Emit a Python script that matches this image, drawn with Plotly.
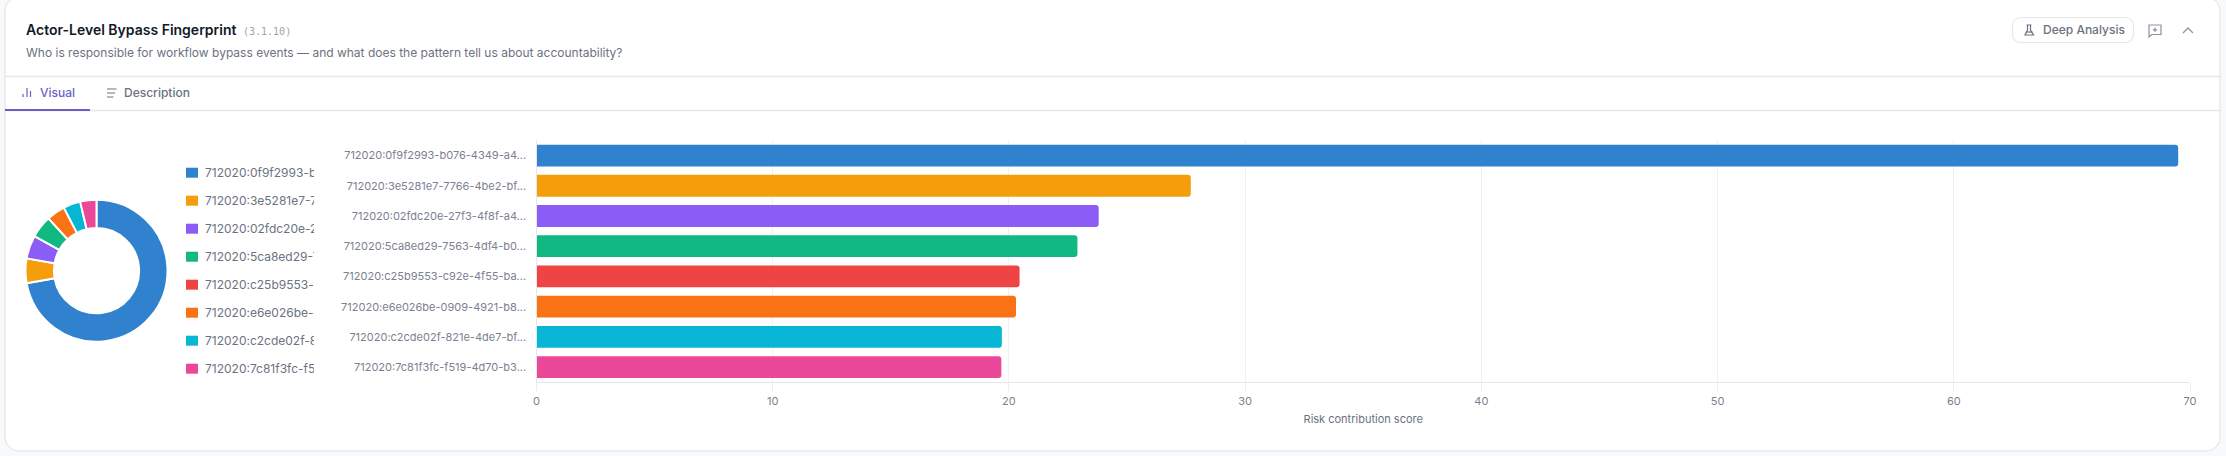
import plotly.graph_objects as go

W, H = 2226, 456
FONT = "Inter"

actors = [
    "712020:0f9f2993-b076-4349-a4...",
    "712020:3e5281e7-7766-4be2-bf...",
    "712020:02fdc20e-27f3-4f8f-a4...",
    "712020:5ca8ed29-7563-4df4-b0...",
    "712020:c25b9553-c92e-4f55-ba...",
    "712020:e6e026be-0909-4921-b8...",
    "712020:c2cde02f-821e-4de7-bf...",
    "712020:7c81f3fc-f519-4d70-b3...",
]
share_values = [72.1, 5.6, 5.3, 5.1, 0, 4.2, 3.9, 3.7]
risk_scores = [69.5, 27.7, 23.8, 22.9, 20.45, 20.3, 19.7, 19.68]
colors = ["#3182ce", "#f59e0b", "#8b5cf6", "#10b981", "#ef4444", "#f97316", "#06b6d4", "#ec4899"]
x_ticks = [0, 10, 20, 30, 40, 50, 60, 70]

TITLE = "Actor-Level Bypass Fingerprint"
VERSION = "(3.1.10)"
SUBTITLE = "Who is responsible for workflow bypass events \u2014 and what does the pattern tell us about accountability?"


def X(p):
    return p / W


def Y(p):
    return 1 - p / H


def path(cmds):
    out = []
    for c in cmds:
        if c[0] == "Z":
            out.append("Z")
        else:
            out.append(f"{c[0]} {X(c[1]):.6f} {Y(c[2]):.6f}")
    return " ".join(out)


def rrect(x0, y0, x1, y1, r):
    k = r * 0.45
    s = f"M {X(x0+r):.6f} {Y(y0):.6f} L {X(x1-r):.6f} {Y(y0):.6f} "
    s += f"C {X(x1-k):.6f} {Y(y0):.6f} {X(x1):.6f} {Y(y0+k):.6f} {X(x1):.6f} {Y(y0+r):.6f} "
    s += f"L {X(x1):.6f} {Y(y1-r):.6f} "
    s += f"C {X(x1):.6f} {Y(y1-k):.6f} {X(x1-k):.6f} {Y(y1):.6f} {X(x1-r):.6f} {Y(y1):.6f} "
    s += f"L {X(x0+r):.6f} {Y(y1):.6f} "
    s += f"C {X(x0+k):.6f} {Y(y1):.6f} {X(x0):.6f} {Y(y1-k):.6f} {X(x0):.6f} {Y(y1-r):.6f} "
    s += f"L {X(x0):.6f} {Y(y0+r):.6f} "
    s += f"C {X(x0):.6f} {Y(y0+k):.6f} {X(x0+k):.6f} {Y(y0):.6f} {X(x0+r):.6f} {Y(y0):.6f} Z"
    return s


def pshape(d, line="#6b7280", w=1.2, fill=None, layer="below"):
    return dict(type="path", xref="paper", yref="paper", path=d, layer=layer,
                line=dict(color=line, width=w), fillcolor=fill or "rgba(0,0,0,0)")


def hline(x0, x1, y, color="#e5e7eb", w=1.3):
    return dict(type="line", xref="paper", yref="paper", x0=X(x0), x1=X(x1), y0=Y(y), y1=Y(y),
                layer="below", line=dict(color=color, width=w))


def text(x, y, s, size, color, weight=400, family=FONT, anchor="left", **kw):
    return dict(xref="paper", yref="paper", x=X(x), y=Y(y), text=s, showarrow=False,
                xanchor=anchor, yanchor="middle", align="left", borderpad=0,
                font=dict(size=size, color=color, family=family, weight=weight), **kw)


fig = go.Figure()

fig.add_trace(go.Pie(
    labels=actors, values=share_values, sort=False, direction="clockwise", rotation=0,
    hole=0.6, textinfo="none", showlegend=False,
    marker=dict(colors=colors, line=dict(color="#ffffff", width=2)),
    domain=dict(x=[X(25.5), X(167.5)], y=[Y(341.7), Y(199.7)]),
))

fig.add_trace(go.Bar(
    x=risk_scores, y=actors, orientation="h", marker=dict(color=colors, line=dict(width=0)),
    showlegend=False, width=0.72, xaxis="x", yaxis="y",
))

shapes = [
    pshape(rrect(5, -3, 2220, 451, 14), line="#e5e7eb", w=1.3, fill="#ffffff"),
    hline(5, 2220, 76.5),
    hline(5, 2220, 110.5),
    hline(5, 90, 110, color="#6b5fc7", w=2.2),
    pshape(rrect(2012.5, 17.5, 2133.5, 42.5, 8), line="#e5e7eb", w=1.2, fill="#ffffff"),
    pshape(path([("M", 2026.5, 25), ("L", 2031.5, 25), ("M", 2027.5, 25), ("L", 2027.5, 30), ("L", 2025, 35),
                 ("L", 2033.5, 35), ("L", 2030.5, 30), ("L", 2030.5, 25)]), w=1.2),
    pshape(path([("M", 2026, 32), ("L", 2032.5, 32)]), w=1.2),
    pshape(path([("M", 2149, 25), ("L", 2161, 25), ("L", 2161, 34.5), ("L", 2152, 34.5), ("L", 2149, 37), ("Z",)]),
           line="#8b93a1", w=1.2),
    pshape(path([("M", 2155, 27.5), ("L", 2155, 32), ("M", 2152.8, 29.8), ("L", 2157.2, 29.8)]),
           line="#8b93a1", w=1.2),
    pshape(path([("M", 2183, 33), ("L", 2188, 28), ("L", 2193, 33)]), line="#8b93a1", w=1.3),
    pshape(path([("M", 23, 94), ("L", 23, 97), ("M", 27, 88), ("L", 27, 97), ("M", 30.5, 91), ("L", 30.5, 97)]),
           line="#6b5fc7", w=1.2),
    pshape(path([("M", 107, 89), ("L", 116.5, 89), ("M", 107, 93), ("L", 115, 93), ("M", 107, 97), ("L", 113.5, 97)]),
           line="#6b7280", w=1.1),
]

annotations = [
    text(25, 30, TITLE, 14, "#111827", weight=600),
    text(242, 31.5, VERSION, 10, "#9ca3af", family="DejaVu Sans Mono"),
    text(25, 52, SUBTITLE, 12, "#6b7280"),
    text(39, 92.5, "Visual", 12, "#6b5fc7", weight=500),
    text(123, 92.5, "Description", 12, "#6b7280", weight=500),
    text(2042, 30, "Deep Analysis", 12, "#6b7280", weight=500),
]

for i, (name, col) in enumerate(zip(actors, colors)):
    yc = 172.7 + 28 * i
    shapes.append(dict(type="rect", xref="paper", yref="paper", x0=X(186), x1=X(198), y0=Y(yc - 5), y1=Y(yc + 5),
                       fillcolor=col, line=dict(width=0), layer="below"))
    annotations.append(text(203.6, yc, name[:18], 12, "#6b7280", width=109))

fig.update_layout(
    width=W, height=H, autosize=False,
    margin=dict(l=0, r=0, t=0, b=0),
    paper_bgcolor="#f8f9fb", plot_bgcolor="rgba(0,0,0,0)",
    font=dict(family=FONT, color="#6b7280"),
    barcornerradius=3,
    xaxis=dict(domain=[X(536.5), X(2190)], range=[0, 70], tickvals=x_ticks, anchor="y", automargin=False,
               showgrid=True, gridcolor="#f0f1f3", gridwidth=1, zeroline=False,
               showline=True, linecolor="#e5e7eb", linewidth=1.3,
               ticks="outside", ticklen=8, tickcolor="#ebecef", tickwidth=1,
               tickfont=dict(size=11, color="#7b8190", family=FONT),
               title=dict(text="Risk contribution score", standoff=8,
                          font=dict(size=11, color="#6b7280", family=FONT))),
    yaxis=dict(domain=[Y(382.3), Y(140.4)], autorange="reversed", anchor="x", type="category", automargin=False,
               showgrid=False, zeroline=False, showline=True, linecolor="#e5e7eb", linewidth=1.3,
               ticks="", ticklabelstandoff=7,
               tickfont=dict(size=11, color="#7b8190", family=FONT)),
    shapes=shapes, annotations=annotations,
    bargap=0.28,
)

fig.write_html("out.html", config=dict(displayModeBar=False),
               post_script="document.body.style.margin='0';document.body.style.background='#f8f9fb';")
